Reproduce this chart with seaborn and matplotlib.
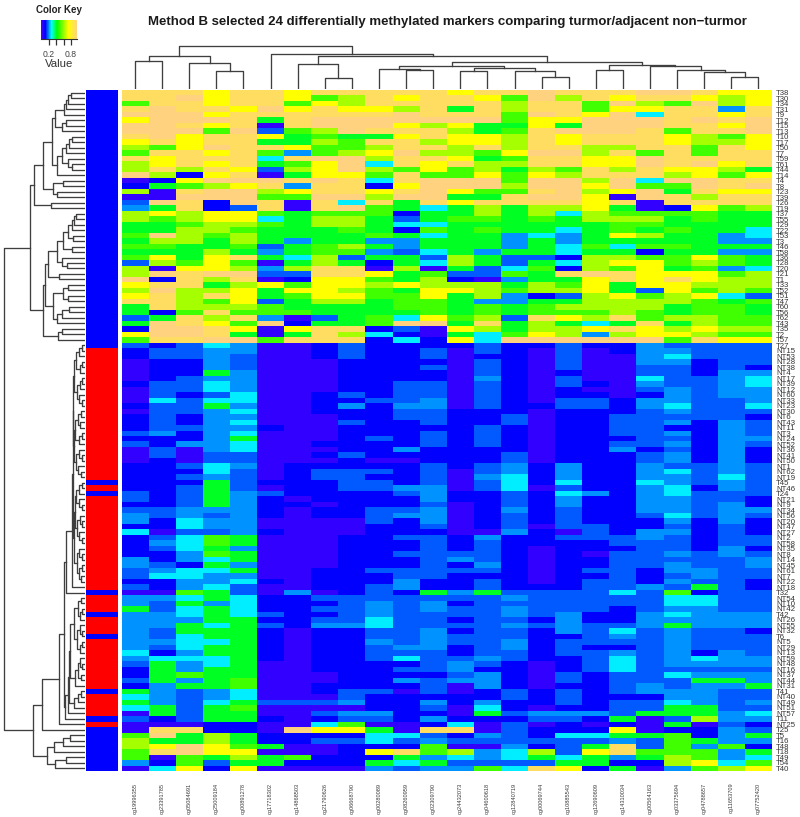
'''
Method B heatmap of 24 methylation markers, tumor vs adjacent non-tumor
'''

import numpy as np
import pandas as pd
import seaborn as sns
import matplotlib.pyplot as plt
from matplotlib.colors import LinearSegmentedColormap, ListedColormap

# marker names, left to right
markers = ['cg19996355', 'cg23391785', 'cg05084691', 'cg25009184', 'cg00891278',
           'cg17718302', 'cg14868503', 'cg21790626', 'cg06668790', 'cg00280089',
           'cg08260959', 'cg02309790', 'cg24432073', 'cg04600618', 'cg12840719',
           'cg00069744', 'cg10885543', 'cg12690609', 'cg14310034', 'cg00564163',
           'cg03375694', 'cg04788657', 'cg11653709', 'cg07752420']

# sample names, top to bottom
samples_a = ['T38', 'T30', 'T34', 'T31', 'T9', 'T12', 'T15', 'T13', 'T10', 'T17',
             'T50', 'T7', 'T59', 'T61', 'T44', 'T14', 'T4', 'T8', 'T23', 'T39',
             'T26', 'T19', 'T37', 'T55', 'T29', 'T22', 'T53', 'T3', 'T46', 'T58',
             'T36', 'T28', 'T20', 'T21', 'T1', 'T33', 'T52', 'T51', 'T47', 'T60',
             'T56', 'T62', 'T43', 'T35', 'T2', 'T57', 'T27']
samples_b = ['NT15', 'NT53', 'NT28', 'NT38', 'NT4', 'NT17', 'NT39', 'NT12', 'NT60',
             'NT33', 'NT23', 'NT30', 'NT6', 'NT43', 'NT11', 'NT3', 'NT24', 'NT52',
             'NT36', 'NT41', 'NT50', 'NT1', 'NT62', 'NT19', 'T45', 'NT46', 'T24',
             'NT21', 'NT9', 'NT34', 'NT56', 'NT20', 'NT47', 'NT27', 'NT2', 'NT58',
             'NT35', 'NT8', 'NT14', 'NT45', 'NT61', 'NT7', 'NT22', 'NT18', 'T32']
samples_c = ['NT54', 'NT10', 'NT42', 'T42', 'NT26', 'NT55', 'NT32', 'T6', 'NT5',
             'NT29', 'NT13', 'NT59', 'NT48', 'NT16', 'NT37', 'NT44', 'NT31', 'T41',
             'NT40', 'NT49', 'NT51', 'NT57', 'T11', 'NT25', 'T25', 'T5', 'T16',
             'T48', 'T18', 'T49', 'T54', 'T40']

# methylation value of each colour level
level_values = [0.03, 0.10, 0.16, 0.20, 0.26, 0.40, 0.50, 0.62, 0.73, 0.91, 0.97]

# one string per sample, one hex digit (index into level_values) per marker
rows_a = [
    '999899899999899a999aa988', '99a899867989986a79899878', '699899687999997996a76a78',
    '9a998a898879597996889939', 'aaa8999999a9996a98a49989', '8aaa959aaaaaaa688aaa9a9a',
    'aa98909aaa8785585aaa998a', 'aaa6a267a9997569aaa9699a', '9a8998565589887989998768',
    '898995576997887989998778', '768a99866799797997799698', '6998963678a7768aa7969699',
    '9899949aa7998569988a9999', '78989568a4989779988a9a89', '79798278a768675769798875',
    'a71890588696686879997868', '018aaa9a949aaa6aa7a4aa99', '15678939918aaa7aa8a66a9a',
    '709aa789989a8669a78a5988', '00aaa66aa7aa559aa80a9799', '2a91a9094959899998909999',
    '35912909a654575778501867', '787886566615575747666655', '767884577525665657775655',
    '556776577544555555665555', '557765556516565545656554', '6a7675555654553435875534',
    '577575355335553535555533', '665562567535553546466555', '555753566324535545515533',
    '685895472552752217766865', '276860575154752547886765', '708873799070524617685634',
    '7a9aa229985622659a988867', 'a19790188657103558989877', '899578688787775768588777',
    '7a7785887658876778528676', '897985688668573127867842', '997682577566533557777656',
    '597776555566565677775665', '516966655556565666765665', '259793025648672987967766',
    '5a986a1556aa595754595766', '1aa980899120875778987877', '8aa950597410546873788766',
    '699aa699914184aaaaaa6988', '212430012111121121132222',
]
rows_b = [
    '122330012112021020133222', '122320012112011020034222', '011320001111021020033122',
    '011320001112021020022121', '011530001111021010022133', '012330001111031020042234',
    '122430001122021021032234', '022430001122021010023233', '021240012122021011013233',
    '042440011223021022133223', '122530013133021122134224', '022340011122111011123222',
    '121330001122112011222221', '121340002112112011223132', '122331001111121011221132',
    '231340001112121011223132', '111350001212121011122133', '213340011112121011223132',
    '020340001131111011312131', '020220012111112011123131', '010220001001112011123131',
    '112430111112123131132232', '111420122212023131134232', '112320122112034131133242',
    '111521112212024141143232', '112520112233024021134132', '212532111123112143134222',
    '212531011113112131133221', '112531101112012131133231', '223331011223013121133233',
    '323231011233012121124232', '314330000213012121113131', '114330000112012022112121',
    '402231000111003102133121', '124650001122131122232122', '134650001112121111222122',
    '124530001112121011122131', '113650001122221010223232', '313450001112321011222223',
    '321530001112131011223223', '234450011222221012213322', '244330011122111011212322',
    '113341011131121012213221', '213420011231121112232521', '006520301215352222426122',
]
rows_c = [
    '334541122222223222224422', '325341112323122222224422', '524541122323223222123322',
    '334542112322223231134333', '333551122422122131133333', '335452133422223232235333',
    '325551011223122132423221', '324551011223222112323222', '334451011323223122223222',
    '324551011233123121123222', '413551011222122122323132', '344451011242232112423433',
    '253450011112321012423333', '153550011122311012422222', '156550001111231021224333',
    '253560001132331021222553', '135560011112031011232335', '532340012202012121233322',
    '432340002111112121113322', '532452223113131121224323', '452560000112041011225522',
    '052550023311052333255534', '212551012213111221502733', '000110046001402010105021',
    '099110a88509902111801132', '6a5751111442132144556135', '755751122423222222326533',
    '78a865001116003125926361', '69a880001896734728966635', '606575611153434545357634',
    '316255111545222255117846', '048180000323364981503678',
]

# column tree: (height, left, right), leaves are marker positions
col_tree = (43,
            (33, (28, 0, 1), (25.7, 2, (18.3, 3, 4))),
            (35, 5,
             (33.3,
              (25, 6, (11, 7, 8)),
              (27.3,
               (23,
                (20.3, 9, (19, 10, 11)),
                (21, (18.3, 12, 13), (18, 14, (12, 15, 16)))),
               (23.7,
                (19, 17, 18),
                (23, 19, (19, 20, (17.3, 21, (12, 22, 23)))))))))

# row tree, tumor block
t3 = (30.3, (21, (19.7, (17, (14.7, 0, 1), 2), 3), 4), (23.7, (19.7, 5, 6), 7))
t4 = (28, (23, (19.7, (16.3, (13, 8, 9), 10), 11), (17, 12, (13, 13, 14))), 15)
t7 = (42, (33.7, t3, t4), (32, (22.7, 16, 17), (28, 18, 19)))
t8 = (51, t7, (34.7, 20, 21))
ga = (13.3, (11.3, (9.3, 22, 23), 24), 25)
gc = (17, ga, (12, 26, 27))
ge = (22, gc, (13.7, 28, 29))
g = (28.7, ge, (23.7, 30, (18.7, 31, 32)))
u1 = (37, g, (26, 33, 34))
u2 = (32, (22, (17.7, 35, 36), (17.7, 37, 38)), (28, (23.7, (16, 39, 40), 41), 42))
u4 = (42.7, (40.3, u1, u2), (27.7, (23, 43, 44), 45))
top_tree = (55.3, t8, u4)

# row tree, non-tumor block
r1 = (9, (6, (3.5, 46, 47), 48), (5, (3, 49, 50), 51))
r2 = (8, (5.5, (3, 52, 53), 54), (6, 55, (3.5, 56, 57)))
r4 = (10, (7, (4, 58, 59), (5, 60, 61)), (6.5, (3.5, 62, 63), 64))
r5 = (9, (6, 65, (3, 66, 67)), (7, 68, (4, 69, 70)))
r6 = (12, (11, r1, r2), (11, r4, r5))
r7 = (9, (6, (3.5, 71, 72), 73), (6, 74, (3, 75, 76)))
r8 = (8, (5, 77, (3, 78, 79)), (6, 80, (3.5, 81, 82)))
r10 = (8.5, (6, 83, (3.5, 84, 85)), (6, (3.5, 86, 87), (4, 88, 89)))
r12 = (12.7, r6, (11.5, (10.5, r7, r8), r10))
red1 = (19.3, (13.5, r12, 90), 91)
s1 = (7, (4, 92, 93), (5, (3, 94, 95), 96))
s2 = (8, (5, 97, (3, 98, 99)), (5, (3, 100, 101), 102))
s5 = (10, (7, (5, 103, (3, 104, 105)), (4, 106, 107)), 108)
s7 = (11, (7, (4, 109, 110), 111), 112)
s9 = (17.7, (16.5, (15, (11, s1, s2), s5), s7), 113)
red4 = (43.7, (26.7, (21.3, red1, (20, s9, 114)), 115), 116)
last = (38.7, (31, (22, (15.3, 117, 118), 119), 120), (30.3, (19.7, 121, 122), 123))
row_tree = (81.3, top_tree, (52, red4, last))

KEY_MAX = 0.97
LINE = '#3f3f3f'
FONT = 'Liberation Sans'


def px_axes(fig, left, top, right, bottom):
    # axes from pixel edges, y counted from the top of the picture
    w, h = fig.get_size_inches() * fig.dpi
    ax = fig.add_axes([left / w, 1 - bottom / h, (right - left) / w, (bottom - top) / h])
    return ax


def draw_tree(ax, node, vertical):
    # returns leaf-axis centre and height of a node
    if isinstance(node, int):
        return node + 0.5, 0
    height, left, right = node
    c1, h1 = draw_tree(ax, left, vertical)
    c2, h2 = draw_tree(ax, right, vertical)
    if vertical:
        ax.plot([c1, c1, c2, c2], [h1, height, height, h2], color=LINE, lw=0.95)
    else:
        ax.plot([h1, height, height, h2], [c1, c1, c2, c2], color=LINE, lw=0.95)
    return (c1 + c2) / 2, height


def plot_heatmap(fig, data, cmap):
    ax = px_axes(fig, 121.5, 90, 772, 771)
    sns.heatmap(data, ax=ax, cmap=cmap, vmin=0, vmax=KEY_MAX, cbar=False,
                xticklabels=True, yticklabels=True)
    ax.set_xlabel('')
    ax.set_ylabel('')
    ax.yaxis.tick_right()
    ax.tick_params(axis='both', length=0)
    ax.tick_params(axis='x', pad=8.5)
    ax.tick_params(axis='y', pad=3)
    plt.setp(ax.get_xticklabels(), rotation=90, fontsize=4.1, color='#3a3a3a', family=FONT)
    plt.setp(ax.get_yticklabels(), rotation=0, fontsize=5.6, color='#333333', family=FONT)


def plot_side_bar(fig, samples):
    ax = px_axes(fig, 86.4, 90, 118.4, 771)
    is_tumor = pd.DataFrame({'tumor': [s.startswith('T') for s in samples]}, dtype=int)
    sns.heatmap(is_tumor, ax=ax, cmap=ListedColormap(['#ff0000', '#0000ff']), vmin=0, vmax=1,
                cbar=False, xticklabels=False, yticklabels=False)
    ax.set_xlabel('')
    ax.set_ylabel('')


def plot_trees(fig, n_rows, n_cols):
    ax = px_axes(fig, 0, 90, 85.3, 771)
    draw_tree(ax, row_tree, False)
    ax.set_xlim(85.3, 0)
    ax.set_ylim(n_rows, 0)
    ax.axis('off')

    ax = px_axes(fig, 121.5, 40, 772, 89)
    draw_tree(ax, col_tree, True)
    ax.set_xlim(0, n_cols)
    ax.set_ylim(0, 49)
    ax.axis('off')


def plot_key(fig, cmap):
    ax = px_axes(fig, 41.3, 20, 77.3, 39)
    ramp = np.linspace(0, KEY_MAX, 120).reshape(1, -1)
    sns.heatmap(ramp, ax=ax, cmap=cmap, vmin=0, vmax=KEY_MAX, cbar=False,
                xticklabels=False, yticklabels=False)
    ticks = [0.2, 0.4, 0.6, 0.8]
    ax.set_xticks([t / KEY_MAX * 120 for t in ticks])
    ax.set_xticklabels(['0.2', '', '', '0.8'], fontsize=6.2, color='#444444', family=FONT)
    ax.tick_params(axis='x', length=4.5, width=0.9, color='#333333', pad=3.5)
    ax.spines['bottom'].set_visible(True)
    ax.spines['bottom'].set_color('#333333')
    ax.set_xlabel('')
    fig.text(59, 817 - 64, 'Value', transform=None, ha='center', va='center',
             fontsize=8.2, color='#333333', family=FONT)
    fig.text(59, 817 - 10, 'Color Key', transform=None, ha='center', va='center',
             fontsize=7, fontweight='bold', color='#222222', family=FONT)


def main():
    samples = samples_a + samples_b + samples_c
    rows = rows_a + rows_b + rows_c
    levels = [[level_values[int(c, 16)] for c in row] for row in rows]
    data = pd.DataFrame(levels, index=samples, columns=markers)

    cmap = LinearSegmentedColormap.from_list('key', [
        (0.0, '#4400ff'),
        (0.10 / KEY_MAX, '#0000ff'),
        (0.27 / KEY_MAX, '#00ffff'),
        (0.42 / KEY_MAX, '#00ff00'),
        (0.73 / KEY_MAX, '#ffff00'),
        (1.0, '#ffd27f'),
    ])

    fig = plt.figure(figsize=(8, 8.17), dpi=100)
    plot_heatmap(fig, data, cmap)
    plot_side_bar(fig, samples)
    plot_trees(fig, len(samples), len(markers))
    plot_key(fig, cmap)
    fig.text(447, 817 - 22,
             'Method B selected 24 differentially methylated markers '
             'comparing turmor/adjacent non\u2212turmor',
             transform=None, ha='center', va='center', fontsize=9.5,
             fontweight='bold', color='#1a1a1a', family=FONT)
    fig.savefig('out.png', dpi=100)


if __name__ == '__main__':
    main()
